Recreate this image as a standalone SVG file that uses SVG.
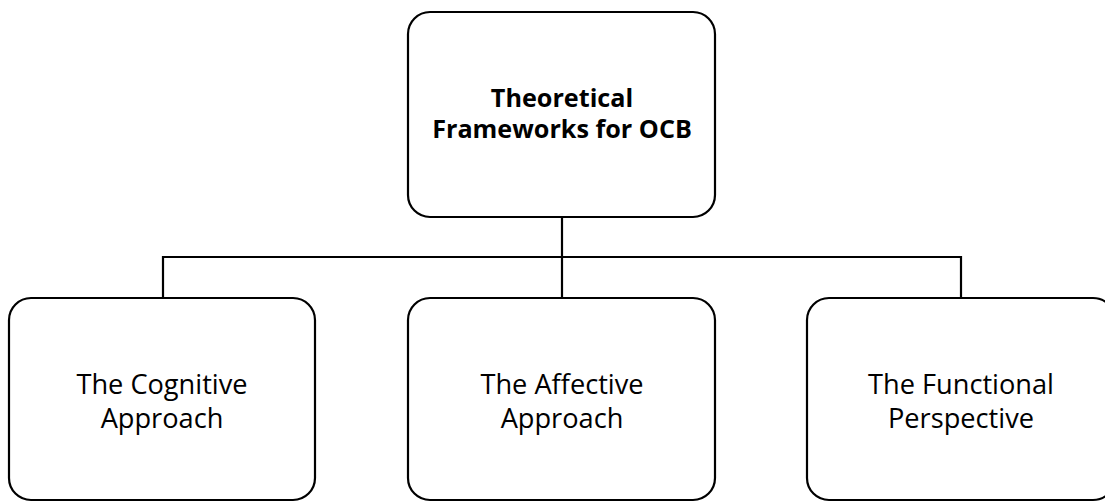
<svg xmlns="http://www.w3.org/2000/svg" width="1105" height="502" viewBox="0 0 1105 502">
<style>
.box{fill:#fff;stroke:#000;stroke-width:2.2}
.ln{fill:none;stroke:#000;stroke-width:2.2}
text{font-family:"Open Sans","Noto Sans",sans-serif;font-size:27.2px;fill:#000;text-anchor:middle}
.b{font-weight:bold;font-size:25.2px}
</style>
<rect width="1105" height="502" fill="#fff"/>
<g id="connectors">
<path class="ln" d="M562 217V257M163 298V257H961V298M562 257V298"/>
</g>
<g id="root">
<rect class="box" x="408" y="12" width="307" height="205" rx="22"/>
<text class="b"><tspan x="562" y="107">Theoretical</tspan><tspan x="562" y="138">Frameworks for OCB</tspan></text>
</g>
<g id="cognitive">
<rect class="box" x="9" y="298" width="306" height="202" rx="22"/>
<text><tspan x="162" y="394">The Cognitive</tspan><tspan x="162" y="428">Approach</tspan></text>
</g>
<g id="affective">
<rect class="box" x="408" y="298" width="307" height="202" rx="22"/>
<text><tspan x="562" y="394">The Affective</tspan><tspan x="562" y="428">Approach</tspan></text>
</g>
<g id="functional">
<rect class="box" x="807" y="298" width="308" height="202" rx="22"/>
<text><tspan x="961" y="394">The Functional</tspan><tspan x="961" y="428">Perspective</tspan></text>
</g>
</svg>
